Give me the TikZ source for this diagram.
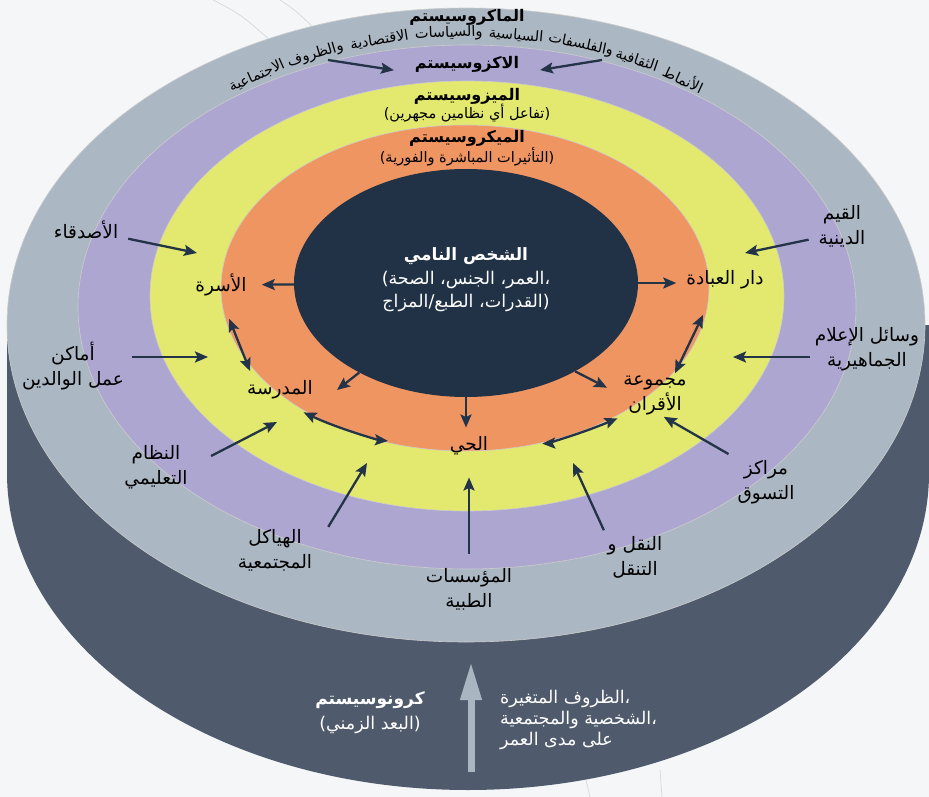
\documentclass[tikz,border=0pt]{standalone}
\usepackage{fontspec}
\usepackage{tikz}
\usetikzlibrary{arrows.meta,positioning,calc,shapes.geometric}
\TeXXeTstate=1
\newfontfamily\arabicfont[Script=Arabic]{DejaVu Sans}
\definecolor{paper}{HTML}{F4F6F8}
\definecolor{cmacro}{HTML}{ABB8C3}
\definecolor{cside}{HTML}{4F5B6C}
\definecolor{cexo}{HTML}{ADA6D1}
\definecolor{cmeso}{HTML}{E3E86E}
\definecolor{cmicro}{HTML}{EF9562}
\definecolor{ccore}{HTML}{213246}
\definecolor{ink}{HTML}{243448}
\definecolor{cchrono}{HTML}{A9B6C1}
\newcommand\rl[1]{\beginR #1\endR}

\begin{document}
\begin{tikzpicture}[x=1pt,y=-1pt,>={Stealth[length=13pt,width=11pt,inset=2.5pt]},
        lbl/.style={font=\arabicfont\fontsize{18.5}{25}\selectfont,align=center,inner sep=2pt},
        ttl/.style={font=\arabicfont\bfseries\fontsize{16}{19}\selectfont,inner sep=1pt},
        sub/.style={font=\arabicfont\fontsize{14.5}{17}\selectfont,inner sep=1pt},
        wrd/.style={font=\arabicfont\fontsize{14.5}{17}\selectfont,inner sep=0pt},
        wht/.style={lbl,text=white,font=\arabicfont\fontsize{17.5}{23}\selectfont},
        arr/.style={->,draw=ink,line width=2.3pt},
        dbl/.style={<->,draw=ink,line width=2.3pt},
        ring/.style={draw=black!20,line width=0.6pt}]
      \useasboundingbox (0,0) rectangle (929,797);
      \clip (0,0) rectangle (929,797);
      \fill[paper] (0,0) rectangle (929,797);
      % faint lines behind the cylinder
      \draw[black!14,line width=0.8pt] (213,0) .. controls (240,14) .. (270,40);
      \draw[black!14,line width=0.8pt] (280,0) .. controls (295,10) .. (314,28);
      \draw[black!14,line width=0.8pt] (586,780) -- (590,797);
      \draw[black!14,line width=0.8pt] (660,770) -- (662,797);
      % cylinder and rings
      \fill[cside] (7,325) rectangle (929,473);
      \fill[cside] (468,473) ellipse [x radius=461,y radius=317];
      \filldraw[fill=cmacro,ring] (466,325) ellipse [x radius=459,y radius=317];
      \filldraw[fill=cexo,ring] (467,307) ellipse [x radius=389,y radius=262];
      \filldraw[fill=cmeso,ring] (467,296) ellipse [x radius=317,y radius=215];
      \filldraw[fill=cmicro,ring] (465,288) ellipse [x radius=244,y radius=163];
      \node[ellipse,fill=ccore,minimum width=344pt,minimum height=228pt,inner sep=0pt] (dev) at (466,283) {};

      % system titles
      \node[ttl] (macro) at (467,17) {\rl{الماكروسيستم}};
      % macrosystem words along the arc, right to left
      \foreach \t/\w [count=\i] in {57.5/الأنماط,65.05/الثقافية,73.6/والفلسفات,83.0/السياسية,92.6/والسياسات,102.55/الاقتصادية,112.1/والظروف,121.45/الاجتماعية}
        \node[wrd,rotate={atan2(-292*cos(\t),403*sin(\t))}] (w\i) at ({467+403*cos(\t)},{325-292*sin(\t)}) {\w};
      \node[ttl] (exo) at (467,64) {\rl{الاكزوسيستم}};
      \node[ttl] (meso) at (467,96) {\rl{الميزوسيستم}};
      \node[sub,below=-2pt of meso] (mesotxt) {\rl{(تفاعل أي نظامين مجهرين)}};
      \node[ttl] (micro) at (467,138) {\rl{الميكروسيستم}};
      \node[sub,below=-1pt of micro] (microtxt) {\rl{(التأثيرات المباشرة والفورية)}};
      \coordinate (macL) at (328,60);
      \coordinate (macR) at (602,60);
      \draw[arr,shorten >=20pt] (macL) -- (exo.south west);
      \draw[arr,shorten >=20pt] (macR) -- (exo.south east);

      % the developing person
      \node[wht,font=\arabicfont\bfseries\fontsize{17}{20}\selectfont] (devttl) at (466,256) {\rl{الشخص النامي}};
      \node[wht] (devtxt) at (466,291) {\rl{،العمر، الجنس، الصحة)}\\\rl{(القدرات، الطبع/المزاج}};

      % settings
      \node[lbl] (friends) at (86,230) {\rl{الأصدقاء}};
      \node[lbl] (family) at (221,285) {\rl{الأسرة}};
      \node[lbl] (parents) at (73,366) {\rl{أماكن}\\\rl{عمل الوالدين}};
      \node[lbl] (school) at (280,390) {\rl{المدرسة}};
      \node[lbl] (educ) at (156,467) {\rl{النظام}\\\rl{التعليمي}};
      \node[lbl] (struct) at (275,550) {\rl{الهياكل}\\\rl{المجتمعية}};
      \node[lbl] (neigh) at (469,446) {\rl{الحي}};
      \node[lbl] (med) at (469,589) {\rl{المؤسسات}\\\rl{الطبية}};
      \node[lbl] (transp) at (635,557) {\rl{النقل و}\\\rl{التنقل}};
      \node[lbl] (shop) at (766,482) {\rl{مراكز}\\\rl{التسوق}};
      \node[lbl] (peers) at (655,395) {\rl{مجموعة}\\\rl{الأقران}};
      \node[lbl] (worship) at (725,280) {\rl{دار العبادة}};
      \node[lbl] (relig) at (842,226) {\rl{القيم}\\\rl{الدينية}};
      \node[lbl] (media) at (867,349) {\rl{وسائل الإعلام}\\\rl{الجماهيرية}};

      % influences
      \coordinate (cFriends) at (197,253);
      \coordinate (cParents) at (208,357);
      \coordinate (cEduc) at (277,422);
      \coordinate (cStruct) at (367,463);
      \coordinate (cTransp) at (573,463);
      \coordinate (cRelig) at (745,253);
      \coordinate (cMedia) at (733,357);
      \draw[arr,shorten <=8pt] (friends) -- (cFriends);
      \draw[arr,shorten <=6pt] (parents.east |- cParents) -- (cParents);
      \draw[arr,shorten <=24pt] (educ.east) -- (cEduc);
      \draw[arr] ([xshift=14pt]struct.north east) -- (cStruct);
      \draw[arr,shorten <=12pt,shorten >=20pt] (med.north) -- (med.north |- neigh.south);
      \draw[arr,shorten <=4pt] (transp.north west) -- (cTransp);
      \draw[arr,shorten <=8pt] (shop.north west) -- ([xshift=-25pt]peers.south east);
      \draw[arr,shorten <=8pt] ([yshift=-12pt]relig.west) -- (cRelig);
      \draw[arr,shorten <=3pt] (media.west |- cMedia) -- (cMedia);
      \draw[arr,shorten >=13pt] (dev) -- (family);
      \draw[arr] (dev.220) -- ([xshift=22pt]school.east);
      \draw[arr,shorten >=7pt] (dev.south) -- (dev.south |- neigh.north);
      \draw[arr,shorten >=16pt] (dev.321) -- (peers.west);
      \draw[arr,shorten >=8pt] (dev.east) -- (dev.east -| worship.west);
      \draw[dbl,shorten <=22pt,shorten >=8pt] (family.south) -- ([xshift=8pt]school.north west);
      \draw[dbl,shorten <=26pt,shorten >=60pt] (school.south) to[bend right=10] (neigh.west);
      \draw[dbl,shorten <=52pt,shorten >=4pt] (neigh.east) to[bend right=10] (peers.south west);
      \draw[dbl,shorten >=26pt] ([xshift=20pt]peers.north) -- ([xshift=30pt]worship.south west);

      % chronosystem
      \coordinate (chrB) at (471,772);
      \coordinate (chrT) at (471,662);
      \draw[cchrono,line width=7pt,-{Triangle[length=38pt,width=20pt]}] (chrB) -- (chrT);
      \node[wht,font=\arabicfont\bfseries\fontsize{17}{20}\selectfont] (chrono) at (370,700) {\rl{كرونوسيستم}};
      \node[wht,below=3pt of chrono] (chronotxt) {\rl{(البعد الزمني)}};
      \node[wht,align=left,anchor=west,font=\arabicfont\fontsize{17.5}{21}\selectfont] (life) at (498,720) {\rl{،الظروف المتغيرة}\\\rl{،الشخصية والمجتمعية}\\\rl{على مدى العمر}};
    \end{tikzpicture}
\end{document}
